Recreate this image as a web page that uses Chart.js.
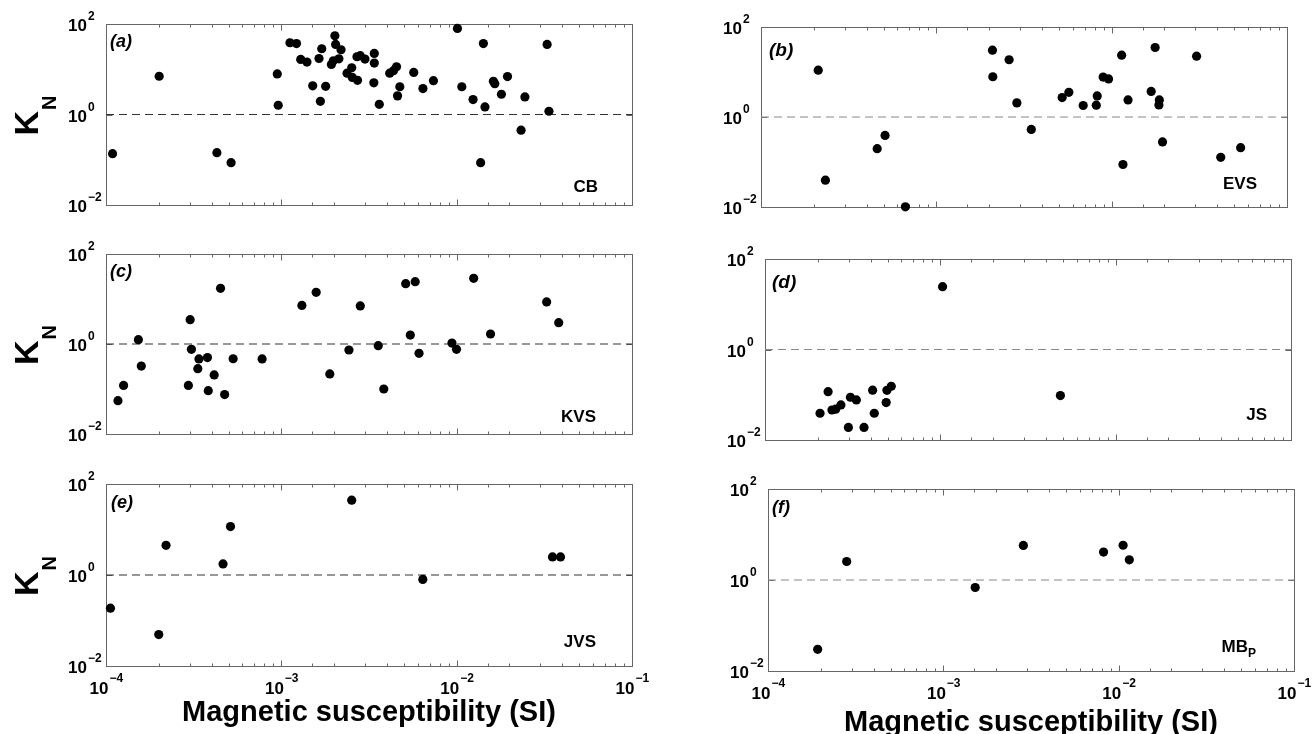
<!DOCTYPE html>
<html>
<head>
<meta charset="utf-8">
<script src="https://cdn.jsdelivr.net/npm/chart.js@4.4.0/dist/chart.umd.min.js"></script>
<style>
body { margin: 0; background: #fff; width: 1312px; height: 734px; overflow: hidden; position: relative; }
canvas { position: absolute; }
</style>
</head>
<body>
<canvas id="pa" width="656" height="230" style="left:0;top:0"></canvas>
<canvas id="pb" width="656" height="230" style="left:656px;top:0"></canvas>
<canvas id="pc" width="656" height="230" style="left:0;top:230px"></canvas>
<canvas id="pd" width="656" height="230" style="left:656px;top:230px"></canvas>
<canvas id="pe" width="656" height="274" style="left:0;top:460px"></canvas>
<canvas id="pf" width="656" height="274" style="left:656px;top:460px"></canvas>
<script>
// axis ranges and labelled decades
var xMin = 1e-4, xMax = 1e-1;
var yMin = 1e-2, yMax = 1e2;
var xTickExp = [-4, -3, -2, -1];
var yTickExp = [-2, 0, 2];
var refLine = 1;

var panelLetters = ['(a)', '(b)', '(c)', '(d)', '(e)', '(f)'];
var siteNames = ['CB', 'EVS', 'KVS', 'JS', 'JVS', 'MB'];
var xTitle = 'Magnetic susceptibility (SI)';

// (a) CB
var cbX = [1.09e-4, 2.01e-4, 4.29e-4, 5.17e-4, 9.48e-4, 9.6e-4, 1.12e-3, 1.22e-3, 1.29e-3, 1.40e-3,
           1.51e-3, 1.64e-3, 1.67e-3, 1.70e-3, 1.79e-3, 1.93e-3, 1.98e-3, 2.02e-3, 2.04e-3, 2.13e-3,
           2.19e-3, 2.37e-3, 2.52e-3, 2.54e-3, 2.70e-3, 2.72e-3, 2.82e-3, 3.0e-3, 3.39e-3, 3.39e-3,
           3.37e-3, 3.62e-3, 4.15e-3, 4.36e-3, 4.54e-3, 4.74e-3, 4.6e-3, 5.69e-3, 6.42e-3, 7.37e-3,
           1.01e-2, 1.07e-2, 1.24e-2, 1.37e-2, 1.42e-2, 1.45e-2, 1.62e-2, 1.65e-2, 1.80e-2, 1.95e-2,
           2.33e-2, 2.45e-2, 3.28e-2, 3.36e-2];
var cbY = [0.136, 7.0, 0.143, 0.086, 7.9, 1.6, 38.5, 37, 16.5, 14.4,
           4.3, 17.3, 1.96, 28.4, 4.2, 12.8, 15.4, 55, 35.4, 17,
           27, 8.2, 10.8, 6.6, 18.9, 5.7, 20, 16.8, 22.4, 13.7,
           5.0, 1.68, 8.2, 9.3, 11.3, 4.1, 2.58, 8.5, 3.75, 5.6,
           80, 4.1, 2.14, 0.086, 37, 1.47, 5.4, 4.8, 2.8, 6.9,
           0.45, 2.45, 35.4, 1.18];

// (b) EVS
var evsX = [2.12e-4, 2.33e-4, 4.6e-4, 5.1e-4, 6.66e-4, 2.09e-3, 2.1e-3, 2.6e-3, 2.88e-3, 3.48e-3,
            5.22e-3, 5.7e-3, 6.88e-3, 8.17e-3, 8.27e-3, 8.94e-3, 9.6e-3, 1.14e-2, 1.16e-2, 1.24e-2,
            1.68e-2, 1.77e-2, 1.87e-2, 1.86e-2, 1.95e-2, 3.05e-2, 4.19e-2, 5.44e-2];
var evsY = [11.0, 0.0395, 0.198, 0.39, 0.0101, 30.5, 7.85, 18.7, 2.06, 0.53,
            2.7, 3.54, 1.8, 1.83, 2.94, 7.7, 7.0, 23.6, 0.088, 2.4,
            3.7, 35, 2.4, 1.85, 0.28, 22.5, 0.127, 0.208];

// (c) KVS
var kvsX = [1.17e-4, 1.26e-4, 1.53e-4, 1.59e-4, 2.95e-4, 3.02e-4, 3.07e-4, 3.34e-4, 3.39e-4, 3.79e-4,
            3.83e-4, 4.14e-4, 4.5e-4, 4.75e-4, 5.31e-4, 7.77e-4, 1.31e-3, 1.58e-3, 1.89e-3, 2.43e-3,
            2.82e-3, 3.57e-3, 3.84e-3, 5.12e-3, 5.44e-3, 5.8e-3, 6.1e-3, 9.4e-3, 9.98e-3, 1.25e-2,
            1.56e-2, 3.26e-2, 3.82e-2];
var kvsY = [0.055, 0.12, 1.25, 0.324, 0.12, 3.47, 0.76, 0.283, 0.465, 0.50,
            0.092, 0.205, 17.3, 0.075, 0.47, 0.465, 7.2, 14.1, 0.216, 0.735,
            7.0, 0.92, 0.10, 21.9, 1.58, 24.3, 0.62, 1.05, 0.76, 28.8,
            1.67, 8.6, 2.98];

// (d) JS
var jsX = [2.06e-4, 2.29e-4, 2.41e-4, 2.53e-4, 2.71e-4, 2.99e-4, 3.07e-4, 3.32e-4, 3.67e-4, 4.11e-4,
           4.2e-4, 4.91e-4, 4.96e-4, 5.25e-4, 1.03e-3, 4.84e-3];
var jsY = [0.039, 0.117, 0.046, 0.048, 0.0596, 0.019, 0.088, 0.077, 0.019, 0.126,
           0.039, 0.067, 0.125, 0.154, 24.4, 0.096];

// (e) JVS
var jvsX = [1.06e-4, 2.0e-4, 2.2e-4, 4.65e-4, 5.13e-4, 2.52e-3, 6.41e-3, 3.52e-2, 3.91e-2];
var jvsY = [0.187, 0.049, 4.5, 1.75, 11.6, 44, 0.80, 2.5, 2.5];

// (f) MB_P
var mbX = [1.92e-4, 2.81e-4, 1.52e-3, 2.86e-3, 8.2e-3, 1.06e-2, 1.15e-2];
var mbY = [0.030, 2.55, 0.684, 5.75, 4.1, 5.8, 2.78];

var FONT = '"Liberation Sans", Arial, Helvetica, sans-serif';

function pts(xs, ys) {
    return xs.map(function(x, i) { return { x: x, y: ys[i] }; });
}

function isPow10(v) {
    var l = Math.log10(v);
    return Math.abs(l - Math.round(l)) < 1e-6;
}

function supText(e) {
    return e < 0 ? '\u2212' + (-e) : '' + e;
}

// "10" with exponent; rx = right edge of the "10"
function drawPow(ctx, e, rx, base, supBase) {
    ctx.font = 'bold 17px ' + FONT;
    ctx.textAlign = 'right';
    ctx.fillText('10', rx, base);
    ctx.font = 'bold 12px ' + FONT;
    ctx.textAlign = 'left';
    ctx.fillText(supText(e), rx + 1, supBase);
}

var decor = {
    id: 'decor',
    beforeDatasetsDraw: function(chart, args, o) {
        var ctx = chart.ctx, a = chart.chartArea;
        var xs = chart.scales.x, ys = chart.scales.y;
        var l = Math.round(a.left) + 0.5, r = Math.round(a.right) + 0.5;
        var t = Math.round(a.top) + 0.5, b = Math.round(a.bottom) + 0.5;
        ctx.save();
        ctx.strokeStyle = '#666';
        ctx.lineWidth = 1;
        ctx.beginPath();
        xs.ticks.forEach(function(tk) {
            var px = Math.round(xs.getPixelForValue(tk.value)) + 0.5;
            var len = isPow10(tk.value) ? 6 : 3;
            ctx.moveTo(px, b); ctx.lineTo(px, b - len);
            ctx.moveTo(px, t); ctx.lineTo(px, t + len);
        });
        yTickExp.forEach(function(e) {
            var py = Math.round(ys.getPixelForValue(Math.pow(10, e))) + 0.5;
            ctx.moveTo(l, py); ctx.lineTo(l + 6, py);
            ctx.moveTo(r, py); ctx.lineTo(r - 6, py);
        });
        ctx.stroke();
        ctx.strokeRect(l, t, r - l, b - t);
        ctx.restore();
    },
    afterDraw: function(chart, args, o) {
        var ctx = chart.ctx, a = chart.chartArea;
        var xs = chart.scales.x, ys = chart.scales.y;
        ctx.save();
        ctx.fillStyle = '#000';
        ctx.textBaseline = 'alphabetic';
        // y tick labels
        yTickExp.forEach(function(e) {
            var py = ys.getPixelForValue(Math.pow(10, e));
            drawPow(ctx, e, a.left - 19, py + 7, py - 4);
        });
        // x tick labels (bottom row only)
        if (o.xLabels) {
            xTickExp.forEach(function(e) {
                var px = xs.getPixelForValue(Math.pow(10, e));
                drawPow(ctx, e, px + 2.5, a.bottom + 28, a.bottom + 16);
            });
            ctx.font = 'bold 29px ' + FONT;
            ctx.textAlign = 'center';
            ctx.fillText(xTitle, (a.left + a.right) / 2, a.bottom + o.titleDy);
        }
        // panel letter
        ctx.font = 'italic bold ' + o.letterSize + 'px ' + FONT;
        ctx.textAlign = 'left';
        ctx.fillText(o.letter, a.left + o.letterDx, a.top + o.letterDy);
        // site name
        ctx.font = 'bold 17px ' + FONT;
        if (o.sub) {
            ctx.font = 'bold 12px ' + FONT;
            var ws = ctx.measureText(o.sub).width;
            ctx.textAlign = 'right';
            ctx.fillText(o.sub, a.right - o.siteDx, a.bottom - o.siteDy + 5);
            ctx.font = 'bold 17px ' + FONT;
            ctx.fillText(o.site, a.right - o.siteDx - ws, a.bottom - o.siteDy);
        } else {
            ctx.textAlign = 'right';
            ctx.fillText(o.site, a.right - o.siteDx, a.bottom - o.siteDy);
        }
        // K_N axis title (left column)
        if (o.yTitle) {
            var cy = (a.top + a.bottom) / 2 + 21;
            ctx.translate(38, cy);
            ctx.rotate(-Math.PI / 2);
            ctx.textAlign = 'left';
            ctx.font = 'bold 34px ' + FONT;
            ctx.fillText('K', 0, 0);
            var wk = ctx.measureText('K').width;
            ctx.font = 'bold 20px ' + FONT;
            ctx.fillText('N', wk + 1, 18);
        }
        ctx.restore();
    }
};

function makePanel(id, xs, ys, cfg) {
    new Chart(document.getElementById(id), {
        type: 'scatter',
        data: {
            datasets: [{
                data: pts(xs, ys),
                backgroundColor: '#000',
                borderColor: '#000',
                borderWidth: 0,
                pointRadius: 4.6,
                clip: false
            }, {
                data: [{ x: xMin, y: refLine }, { x: xMax, y: refLine }],
                showLine: true,
                borderColor: cfg.dashColor,
                borderWidth: 1.2,
                borderDash: [8, 5],
                pointRadius: 0
            }]
        },
        options: {
            responsive: false,
            devicePixelRatio: 1,
            animation: false,
            events: [],
            layout: { padding: cfg.pad },
            plugins: {
                legend: { display: false },
                tooltip: { enabled: false },
                decor: cfg.decor
            },
            scales: {
                x: {
                    type: 'logarithmic', min: xMin, max: xMax,
                    ticks: { display: false },
                    grid: { display: false, drawTicks: false },
                    border: { display: false },
                    afterFit: function(s) { s.height = 0; }
                },
                y: {
                    type: 'logarithmic', min: yMin, max: yMax,
                    ticks: { display: false },
                    grid: { display: false, drawTicks: false },
                    border: { display: false },
                    afterFit: function(s) { s.width = 0; }
                }
            }
        },
        plugins: [decor]
    });
}

makePanel('pa', cbX, cbY, {
    pad: { left: 106, right: 24, top: 24, bottom: 25 }, dashColor: '#333',
    decor: { letter: panelLetters[0], letterSize: 18, letterDx: 4, letterDy: 23, site: siteNames[0], siteDx: 34, siteDy: 13, yTitle: true, xLabels: false }
});
makePanel('pb', evsX, evsY, {
    pad: { left: 105, right: 25, top: 27, bottom: 23 }, dashColor: '#888',
    decor: { letter: panelLetters[1], letterSize: 19, letterDx: 8, letterDy: 29, site: siteNames[1], siteDx: 30, siteDy: 18, yTitle: false, xLabels: false }
});
makePanel('pc', kvsX, kvsY, {
    pad: { left: 106, right: 24, top: 24, bottom: 26 }, dashColor: '#333',
    decor: { letter: panelLetters[2], letterSize: 18, letterDx: 4, letterDy: 23, site: siteNames[2], siteDx: 36, siteDy: 12, yTitle: true, xLabels: false }
});
makePanel('pd', jsX, jsY, {
    pad: { left: 109, right: 21, top: 29, bottom: 20 }, dashColor: '#888',
    decor: { letter: panelLetters[3], letterSize: 19, letterDx: 7, letterDy: 29, site: siteNames[3], siteDx: 24, siteDy: 20, yTitle: false, xLabels: false }
});
makePanel('pe', jvsX, jvsY, {
    pad: { left: 106, right: 24, top: 24, bottom: 68 }, dashColor: '#333',
    decor: { letter: panelLetters[4], letterSize: 18, letterDx: 5, letterDy: 24, site: siteNames[4], siteDx: 36, siteDy: 19, yTitle: true, xLabels: true, titleDy: 55 }
});
makePanel('pf', mbX, mbY, {
    pad: { left: 112, right: 18, top: 29, bottom: 63 }, dashColor: '#888',
    decor: { letter: panelLetters[5], letterSize: 18, letterDx: 4, letterDy: 24, site: siteNames[5], sub: 'P', siteDx: 38, siteDy: 19, yTitle: false, xLabels: true, titleDy: 60 }
});
</script>
</body>
</html>
